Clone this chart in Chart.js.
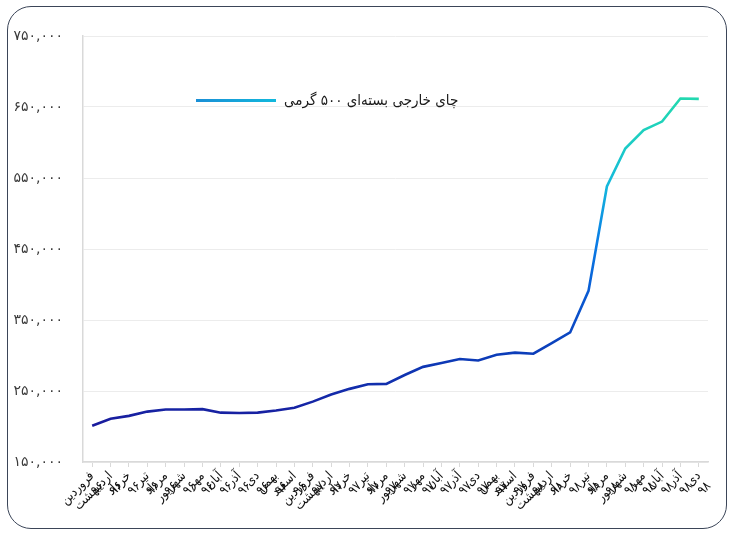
<!DOCTYPE html>
<html lang="fa">
<head>
<meta charset="utf-8">
<script src="https://cdn.jsdelivr.net/npm/chart.js@4.4.1/dist/chart.umd.min.js"></script>
<style>
  body { margin: 0; background: #fff; }
  #wrap { position: relative; width: 735px; height: 533px; }
  #frame {
    position: absolute; left: 7px; top: 6px; width: 718px; height: 521px;
    border: 1.5px solid #3b4558; border-radius: 24px; pointer-events: none;
  }
  #legend {
    position: absolute; left: 196px; top: 91px; display: flex; align-items: center;
    font-family: "DejaVu Sans Condensed", "DejaVu Sans", sans-serif; font-size: 15px; color: #1a1a1a;
  }
  #legend .swatch {
    width: 80px; height: 3px; margin-right: 8px;
    background: linear-gradient(90deg, #1a8fd6, #12b8dc);
  }
</style>
</head>
<body>
<div id="wrap">
  <canvas id="chart" width="735" height="533"></canvas>
  <div id="frame"></div>
  <div id="legend"><span class="swatch"></span><span dir="rtl">چای خارجی بسته‌ای  ۵۰۰ گرمی</span></div>
</div>
<script>
// month labels (Persian calendar), [month, year]
const months = [
  ["فروردین", "۹۶"], ["اردیبهشت", "۹۶"], ["خرداد", "۹۶"], ["تیر", "۹۶"],
  ["مرداد", "۹۶"], ["شهریور", "۹۶"], ["مهر", "۹۶"], ["آبان", "۹۶"],
  ["آذر", "۹۶"], ["دی", "۹۶"], ["بهمن", "۹۶"], ["اسفند", "۹۶"],
  ["فروردین", "۹۷"], ["اردیبهشت", "۹۷"], ["خرداد", "۹۷"], ["تیر", "۹۷"],
  ["مرداد", "۹۷"], ["شهریور", "۹۷"], ["مهر", "۹۷"], ["آبان", "۹۷"],
  ["آذر", "۹۷"], ["دی", "۹۷"], ["بهمن", "۹۷"], ["اسفند", "۹۷"],
  ["فروردین", "۹۸"], ["اردیبهشت", "۹۸"], ["خرداد", "۹۸"], ["تیر", "۹۸"],
  ["مرداد", "۹۸"], ["شهریور", "۹۸"], ["مهر", "۹۸"], ["آبان", "۹۸"],
  ["آذر", "۹۸"], ["دی", "۹۸"]
];

// price in rials
const prices = [
  201000, 211000, 215000, 221000, 224000, 224000, 224500, 219500,
  219000, 219500, 222500, 226500, 235000, 245000, 253000, 259500,
  260000, 272500, 284000, 289500, 295000, 293000, 301000, 304000,
  302500, 317500, 332500, 391000, 538000, 591500, 617500, 629500,
  662000, 661500
];

const seriesName = "چای خارجی بسته‌ای  ۵۰۰ گرمی";

const faDigits = "۰۱۲۳۴۵۶۷۸۹";
function toFa(s) {
  return String(s).replace(/[0-9]/g, d => faDigits[d]);
}

// colour stops along the value axis
const gradStops = [
  [0.08, "#1a1a9c"], [0.25, "#0c3cb8"], [0.40, "#0a5cd4"], [0.52, "#0a7ee6"],
  [0.65, "#14b8dc"], [0.75, "#1ccdc4"], [0.85, "#22d8b0"]
];

function lineGradient(context) {
  const chart = context.chart;
  const area = chart.chartArea;
  if (!area) return "#1a1a9c";
  const g = chart.ctx.createLinearGradient(0, area.bottom, 0, area.top);
  gradStops.forEach(s => g.addColorStop(s[0], s[1]));
  return g;
}

new Chart(document.getElementById("chart"), {
  type: "line",
  data: {
    labels: months,
    datasets: [{
      label: seriesName,
      data: prices,
      borderColor: lineGradient,
      borderWidth: 2.6,
      pointRadius: 0,
      tension: 0,
      fill: false
    }]
  },
  options: {
    responsive: false,
    animation: false,
    layout: { padding: { top: 36, right: 27, left: 0, bottom: 0 } },
    plugins: { legend: { display: false }, tooltip: { enabled: false } },
    scales: {
      x: {
        offset: true,
        grid: { drawOnChartArea: false, color: "#d9d9d9", tickLength: 5, offset: false },
        border: { color: "#d9d9d9", width: 1.5 },
        ticks: {
          autoSkip: false, minRotation: 45, maxRotation: 45, padding: 2,
          color: "#111", font: { family: "DejaVu Sans Condensed", size: 13, lineHeight: 1.1 }
        },
        afterFit: s => { s.height = 71; }
      },
      y: {
        min: 150000, max: 750000,
        grid: { color: "#ececec", drawTicks: false },
        border: { color: "#d9d9d9", width: 1.5 },
        ticks: {
          stepSize: 100000, padding: 20, color: "#3a3a3a",
          font: { family: "DejaVu Sans", size: 14 },
          callback: v => toFa(v.toLocaleString("en-US"))
        },
        afterFit: s => { s.width = 83; }
      }
    }
  }
});
</script>
</body>
</html>
